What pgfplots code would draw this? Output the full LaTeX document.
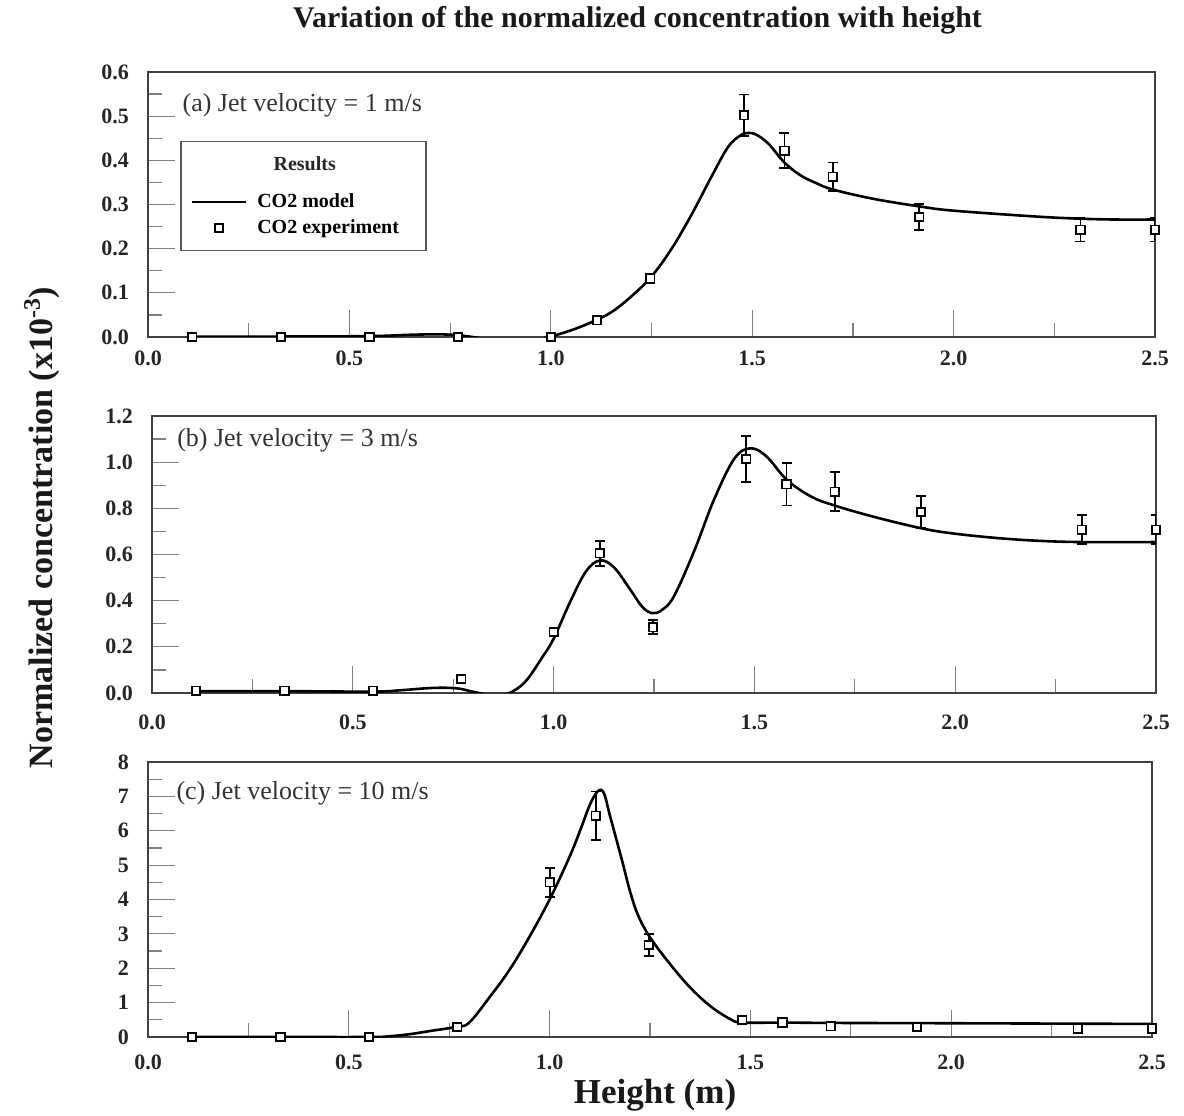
\documentclass[border=0pt]{standalone}
\usepackage{pgfplots}
\pgfplotsset{compat=1.18}
\usepackage{pgfplotstable}
\usepackage{fontspec}
\setmainfont{Liberation Serif}

% ---------- Panel (a) ----------
\pgfplotstableread{
x y
0.11 0.0
0.33 0.0
0.55 0.0
0.77 0.0
1.00 0.0
1.115 0.038
1.247 0.132
1.48 0.502
1.58 0.422
1.70 0.363
1.915 0.272
2.315 0.243
2.50 0.243
}\expA
\pgfplotstableread{
x y ey
1.247 0.132 0.010
1.48 0.502 0.047
1.58 0.422 0.040
1.70 0.363 0.032
1.915 0.272 0.030
2.315 0.243 0.027
2.50 0.243 0.027
}\errA
\pgfplotstableread{
x y
0.11 0.001
0.33 0.001
0.55 0.002
0.65 0.005
0.72 0.006
0.77 0.004
0.82 -0.002
0.86 -0.008
0.92 -0.012
0.97 -0.005
1.00 0.001
1.05 0.015
1.10 0.033
1.15 0.056
1.20 0.092
1.25 0.137
1.30 0.200
1.35 0.278
1.40 0.365
1.44 0.430
1.47 0.456
1.49 0.462
1.51 0.458
1.54 0.438
1.58 0.395
1.62 0.366
1.66 0.348
1.70 0.334
1.80 0.313
1.92 0.295
2.00 0.286
2.20 0.273
2.31 0.268
2.40 0.266
2.50 0.266
}\modA

% ---------- Panel (b) ----------
\pgfplotstableread{
x y
0.11 0.01
0.33 0.01
0.55 0.01
0.77 0.06
1.00 0.265
1.115 0.605
1.247 0.285
1.48 1.014
1.58 0.904
1.70 0.872
1.915 0.784
2.315 0.707
2.50 0.707
}\expB
\pgfplotstableread{
x y ey
1.00 0.265 0.010
1.115 0.605 0.055
1.247 0.285 0.030
1.48 1.014 0.100
1.58 0.904 0.092
1.70 0.872 0.085
1.915 0.784 0.070
2.315 0.707 0.063
2.50 0.707 0.063
}\errB
\pgfplotstableread{
x y
0.11 0.008
0.33 0.008
0.55 0.006
0.62 0.012
0.70 0.022
0.76 0.020
0.80 0.005
0.85 -0.010
0.89 0.000
0.93 0.050
0.97 0.150
1.00 0.235
1.04 0.390
1.08 0.525
1.115 0.574
1.15 0.545
1.19 0.450
1.22 0.375
1.245 0.346
1.27 0.360
1.30 0.420
1.35 0.615
1.40 0.840
1.45 1.015
1.49 1.060
1.53 1.025
1.58 0.925
1.64 0.852
1.70 0.812
1.80 0.762
1.92 0.712
2.00 0.690
2.10 0.672
2.20 0.660
2.31 0.654
2.50 0.654
}\modB

% ---------- Panel (c) ----------
\pgfplotstableread{
x y
0.11 0.0
0.33 0.0
0.55 0.0
0.77 0.29
1.00 4.50
1.115 6.44
1.247 2.68
1.48 0.49
1.58 0.42
1.70 0.31
1.915 0.29
2.315 0.25
2.50 0.25
}\expC
\pgfplotstableread{
x y ey
1.00 4.50 0.42
1.115 6.44 0.70
1.247 2.68 0.32
}\errC
\pgfplotstableread{
x y
0.11 0.0
0.33 0.0
0.55 0.0
0.60 0.02
0.65 0.08
0.70 0.17
0.77 0.30
0.80 0.42
0.85 1.15
0.90 1.95
0.95 2.92
1.00 4.00
1.05 5.25
1.08 6.13
1.10 6.75
1.12 7.15
1.135 7.10
1.15 6.45
1.18 5.15
1.20 4.25
1.22 3.55
1.25 2.90
1.30 2.12
1.35 1.44
1.40 0.90
1.45 0.52
1.48 0.42
1.58 0.42
1.70 0.41
2.00 0.40
2.50 0.38
}\modC

\pgfplotsset{
  panel/.style={
    scale only axis,
    xmin=0, xmax=2.5,
    xtick={0,0.5,1,1.5,2,2.5},
    minor x tick num=1,
    tick pos=left,
    tick align=inside,
    major tick length=13.5pt,
    minor tick length=7pt,
    axis line style={line width=1pt, black!75},
    tick style={black!50, line width=0.6pt},
    ticklabel style={font=\fontsize{11}{13}\selectfont\bfseries, text=black!85},
    xticklabel style={/pgf/number format/fixed, /pgf/number format/fixed zerofill,
      /pgf/number format/precision=1, /pgf/number format/assume math mode=true},
    yticklabel style={xshift=-6pt},
    clip=true,
  },
  model/.style={smooth, tension=0.6, line width=1.3pt, black, mark=none},
  model leg/.style={legend image code/.code={\draw[##1] (0pt,0pt) -- (27pt,0pt);}},
  expt/.style={only marks, mark=square*, mark size=2.1pt,
    mark options={fill=white, draw=black, line width=0.9pt}},
  expt leg/.style={legend image code/.code={\draw[mark repeat=2,mark phase=2,##1] plot coordinates {(0pt,0pt) (13.5pt,0pt) (27pt,0pt)};}},
  ebar/.style={only marks, mark=none, forget plot,
    error bars/.cd, y dir=both, y explicit,
    error bar style={line width=0.9pt, black},
    error mark options={rotate=90, mark size=2.5pt, line width=0.9pt, black}},
}

\begin{document}
\begin{tikzpicture}
\useasboundingbox (0,0) rectangle (592pt,557.5pt);

% Panel (a)
\begin{axis}[panel,
  at={(74pt,389pt)}, anchor=south west,
  width=503.5pt, height=132.5pt,
  ymin=0, ymax=0.6,
  ytick={0,0.1,...,0.6}, minor y tick num=1,
  yticklabel style={/pgf/number format/fixed, /pgf/number format/fixed zerofill,
    /pgf/number format/precision=1, /pgf/number format/assume math mode=true},
  xticklabel style={yshift=-3.5pt},
  legend style={at={(0.042,0.55)}, anchor=north west, draw=none, fill=none,
    font=\fontsize{10}{12}\selectfont\bfseries, inner sep=0pt, row sep=2.5pt,
    nodes={inner sep=1pt}, /tikz/every odd column/.append style={column sep=4pt}},
  legend cell align=left,
]
\addplot[model, model leg] table[x=x,y=y] {\modA};
\addlegendentry{CO2 model}
\addplot[ebar] table[x=x,y=y,y error=ey] {\errA};
\addplot[expt, expt leg] table[x=x,y=y] {\expA};
\addlegendentry{CO2 experiment}
\draw[black!65, line width=0.6pt] (axis cs:0.082,0.195) rectangle (axis cs:0.69,0.443);
\node[font=\fontsize{10}{12}\selectfont\bfseries, text=black!85] at (axis cs:0.389,0.393) {Results};
\node[anchor=west, inner sep=0pt, font=\fontsize{13}{15}\selectfont, text=black!80] at (axis cs:0.085,0.524) {(a) Jet velocity = 1 m/s};
\end{axis}

% Panel (b)
\begin{axis}[panel,
  at={(76pt,211pt)}, anchor=south west,
  width=502pt, height=138.5pt,
  ymin=0, ymax=1.2,
  ytick={0,0.2,...,1.2}, minor y tick num=1,
  yticklabel style={/pgf/number format/fixed, /pgf/number format/fixed zerofill,
    /pgf/number format/precision=1, /pgf/number format/assume math mode=true},
  xticklabel style={yshift=-7.5pt},
]
\addplot[model] table[x=x,y=y] {\modB};
\addplot[ebar] table[x=x,y=y,y error=ey] {\errB};
\addplot[expt] table[x=x,y=y] {\expB};
\node[anchor=west, inner sep=0pt, font=\fontsize{13}{15}\selectfont, text=black!80] at (axis cs:0.062,1.095) {(b) Jet velocity = 3 m/s};
\end{axis}

% Panel (c)
\begin{axis}[panel,
  at={(74pt,39pt)}, anchor=south west,
  width=502pt, height=137.5pt,
  ymin=0, ymax=8,
  ytick={0,1,...,8}, minor y tick num=1,
  yticklabel style={/pgf/number format/fixed, /pgf/number format/precision=0,
    /pgf/number format/assume math mode=true},
  xticklabel style={yshift=-5.5pt},
]
\addplot[model] table[x=x,y=y] {\modC};
\addplot[ebar] table[x=x,y=y,y error=ey] {\errC};
\addplot[expt] table[x=x,y=y] {\expC};
\node[anchor=west, inner sep=0pt, font=\fontsize{13}{15}\selectfont, text=black!80] at (axis cs:0.07,7.08) {(c) Jet velocity = 10 m/s};
\end{axis}

% Titles
\node[font=\fontsize{15}{18}\selectfont\bfseries, text=black!90] at (318.75pt,547.5pt) {Variation of the normalized concentration with height};
\node[rotate=90, font=\fontsize{17}{20}\selectfont\bfseries, text=black!90] at (21pt,293.75pt) {Normalized concentration (x10\textsuperscript{-3})};
\node[font=\fontsize{17.5}{20}\selectfont\bfseries, text=black!90] at (327.5pt,10pt) {Height (m)};
\end{tikzpicture}
\end{document}
